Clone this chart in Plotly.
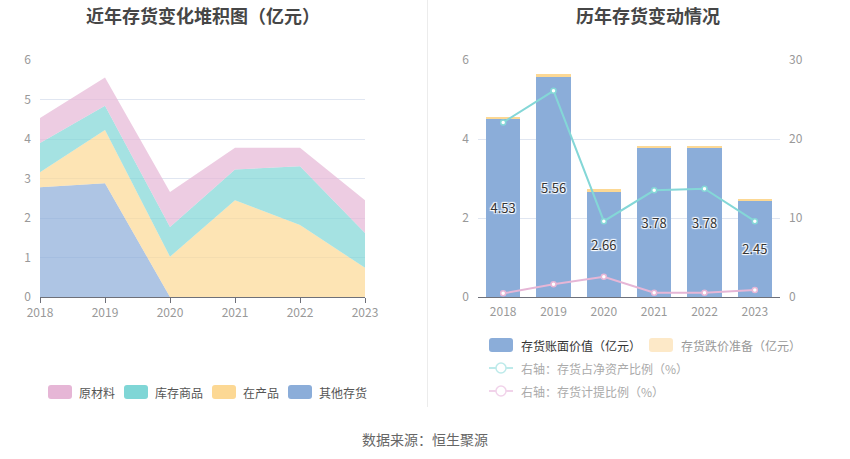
import plotly.graph_objects as go

W, H = 850, 459
FONT = "Noto Sans CJK SC"

# ---------------- data ----------------
years = ["2018", "2019", "2020", "2021", "2022", "2023"]
# left stacked area (亿元)
other_inv = [2.78, 2.88, 0.00, 0.00, 0.00, 0.00]      # 其他存货
wip = [0.38, 1.35, 1.02, 2.45, 1.82, 0.74]            # 在产品
goods = [0.74, 0.61, 0.75, 0.78, 1.49, 0.88]          # 库存商品
raw = [0.63, 0.72, 0.89, 0.55, 0.47, 0.83]            # 原材料
# right chart
book_value = [4.53, 5.56, 2.66, 3.78, 3.78, 2.45]     # 存货账面价值（亿元）
provision = [0.02, 0.09, 0.07, 0.02, 0.02, 0.02]      # 存货跌价准备（亿元）
ratio_net_assets = [22.1, 26.1, 9.6, 13.5, 13.7, 9.6]  # 存货占净资产比例（%）
ratio_provision = [0.46, 1.6, 2.57, 0.55, 0.55, 0.88]  # 存货计提比例（%）

left_names = ["其他存货", "在产品", "库存商品", "原材料"]
left_series = [other_inv, wip, goods, raw]
left_colors = ["139,173,217", "252,216,148", "127,214,214", "230,182,214"]


def px(x):
    return x / W


def py(y):
    return 1 - y / H


fig = go.Figure()

# left stacked areas
for name, vals, col in zip(left_names, left_series, left_colors):
    fig.add_trace(go.Scatter(
        x=years, y=vals, name=name, stackgroup="one", mode="lines",
        line=dict(width=0), fillcolor=f"rgba({col},0.7)",
        xaxis="x", yaxis="y", showlegend=False, hoverinfo="x+y+name"))

# right bars
fig.add_trace(go.Bar(
    x=years, y=book_value, name="存货账面价值（亿元）", xaxis="x2", yaxis="y2",
    marker=dict(color="#8badd9", line=dict(width=0)),
    text=[f"{v:.2f}" for v in book_value], textposition="inside",
    insidetextanchor="middle", constraintext="none",
    textfont=dict(family=FONT, size=13, color="#333",
                  shadow="1px 1px 1px #fff, -1px -1px 1px #fff, 1px -1px 1px #fff, -1px 1px 1px #fff"),
    showlegend=False))
fig.add_trace(go.Bar(
    x=years, y=provision, name="存货跌价准备（亿元）", xaxis="x2", yaxis="y2",
    marker=dict(color="#fcd894", line=dict(width=0)), showlegend=False,
    textposition="none"))
fig.add_trace(go.Scatter(
    x=years, y=ratio_net_assets, name="存货占净资产比例（%）", xaxis="x2", yaxis="y3",
    mode="lines+markers", line=dict(color="#84d7d7", width=2),
    marker=dict(symbol="circle", size=5, color="#fff", line=dict(color="#84d7d7", width=1.5)),
    showlegend=False))
fig.add_trace(go.Scatter(
    x=years, y=ratio_provision, name="存货计提比例（%）", xaxis="x2", yaxis="y3",
    mode="lines+markers", line=dict(color="#e6b6d6", width=2),
    marker=dict(symbol="circle", size=5, color="#fff", line=dict(color="#e6b6d6", width=1.5)),
    showlegend=False))

tickfont = dict(family=FONT, size=12, color="#999")
ydom = [py(297), py(60)]

fig.update_layout(
    width=W, height=H, margin=dict(l=0, r=0, t=0, b=0, autoexpand=False),
    paper_bgcolor="white", plot_bgcolor="white",
    font=dict(family=FONT), barmode="stack", bargap=0.32,
    xaxis=dict(domain=[px(40), px(365)], type="category", range=[0, 5],
               showline=True, linecolor="#6e7079", linewidth=1,
               ticks="outside", ticklen=5, tickcolor="#6e7079",
               showgrid=False, tickfont=tickfont, anchor="y", automargin=False),
    yaxis=dict(domain=ydom, range=[0, 6], dtick=1, showgrid=True,
               gridcolor="#e0e6f1", zeroline=False, showline=False,
               tickfont=tickfont, ticklabelstandoff=8, anchor="x", automargin=False),
    xaxis2=dict(domain=[px(478), px(780)], type="category", range=[-0.5, 5.5],
                showline=True, linecolor="#6e7079", linewidth=1,
                ticks="", showgrid=False, tickfont=tickfont, anchor="y2",
                ticklabelstandoff=4, automargin=False),
    yaxis2=dict(domain=ydom, range=[0, 6], dtick=2, showgrid=True,
                gridcolor="#e0e6f1", zeroline=False, showline=False,
                tickfont=tickfont, ticklabelstandoff=8, anchor="x2", automargin=False),
    yaxis3=dict(overlaying="y2", side="right", range=[0, 30], dtick=10,
                showgrid=False, zeroline=False, showline=False,
                tickfont=tickfont, ticklabelstandoff=8, anchor="x2", automargin=False),
)

annotations = []
shapes = []

# titles
annotations.append(dict(text="近年存货变化堆积图（亿元）", x=px(203), y=py(15), xref="paper", yref="paper",
                        showarrow=False, xanchor="center", yanchor="middle",
                        font=dict(family=FONT, size=18, color="#464646", weight="bold")))
annotations.append(dict(text="历年存货变动情况", x=px(648), y=py(15), xref="paper", yref="paper",
                        showarrow=False, xanchor="center", yanchor="middle",
                        font=dict(family=FONT, size=18, color="#464646", weight="bold")))
# source
annotations.append(dict(text="数据来源：恒生聚源", x=px(425), y=py(439), xref="paper", yref="paper",
                        showarrow=False, xanchor="center", yanchor="middle",
                        font=dict(family=FONT, size=14, color="#666")))

# separator
shapes.append(dict(type="line", xref="paper", yref="paper", x0=px(427.5), x1=px(427.5),
                   y0=py(0), y1=py(407), line=dict(color="#ececec", width=1)))


def rrect(x0, y0, x1, y1, r, color):
    p = (f"M {px(x0 + r)},{py(y0)} L {px(x1 - r)},{py(y0)} Q {px(x1)},{py(y0)} {px(x1)},{py(y0 + r)} "
         f"L {px(x1)},{py(y1 - r)} Q {px(x1)},{py(y1)} {px(x1 - r)},{py(y1)} "
         f"L {px(x0 + r)},{py(y1)} Q {px(x0)},{py(y1)} {px(x0)},{py(y1 - r)} "
         f"L {px(x0)},{py(y0 + r)} Q {px(x0)},{py(y0)} {px(x0 + r)},{py(y0)} Z")
    return dict(type="path", xref="paper", yref="paper", path=p,
                fillcolor=color, line=dict(width=0))


def label(text, x, y, color):
    return dict(text=text, x=px(x), y=py(y), xref="paper", yref="paper", showarrow=False,
                xanchor="left", yanchor="middle", font=dict(family=FONT, size=12, color=color))


# left legend
left_leg = [("原材料", 48, "#e6b6d6"), ("库存商品", 124, "#7fd6d6"),
            ("在产品", 212, "#fcd894"), ("其他存货", 288, "#8badd9")]
for name, x0, col in left_leg:
    shapes.append(rrect(x0, 385, x0 + 24, 399, 3, col))
    annotations.append(label(name, x0 + 29, 392, "#555"))

# right legend
shapes.append(rrect(489, 338, 513, 352, 3, "#8badd9"))
annotations.append(label("存货账面价值（亿元）", 519, 345, "#333"))
shapes.append(rrect(649, 338, 673, 352, 3, "#fde9c8"))
annotations.append(label("存货跌价准备（亿元）", 679, 345, "#999"))
for yy, col, txt in [(368, "#bdeaea", "右轴：存货占净资产比例（%）"),
                     (391, "#f1d3ea", "右轴：存货计提比例（%）")]:
    shapes.append(dict(type="line", xref="paper", yref="paper", x0=px(489), x1=px(513),
                       y0=py(yy), y1=py(yy), line=dict(color=col, width=2)))
    shapes.append(dict(type="circle", xref="paper", yref="paper", x0=px(496), x1=px(506),
                       y0=py(yy - 5), y1=py(yy + 5), fillcolor="#fff", line=dict(color=col, width=1.5)))
    annotations.append(label(txt, 519, yy, "#aaa"))

fig.update_layout(annotations=annotations, shapes=shapes)
fig.write_html("out.html")
